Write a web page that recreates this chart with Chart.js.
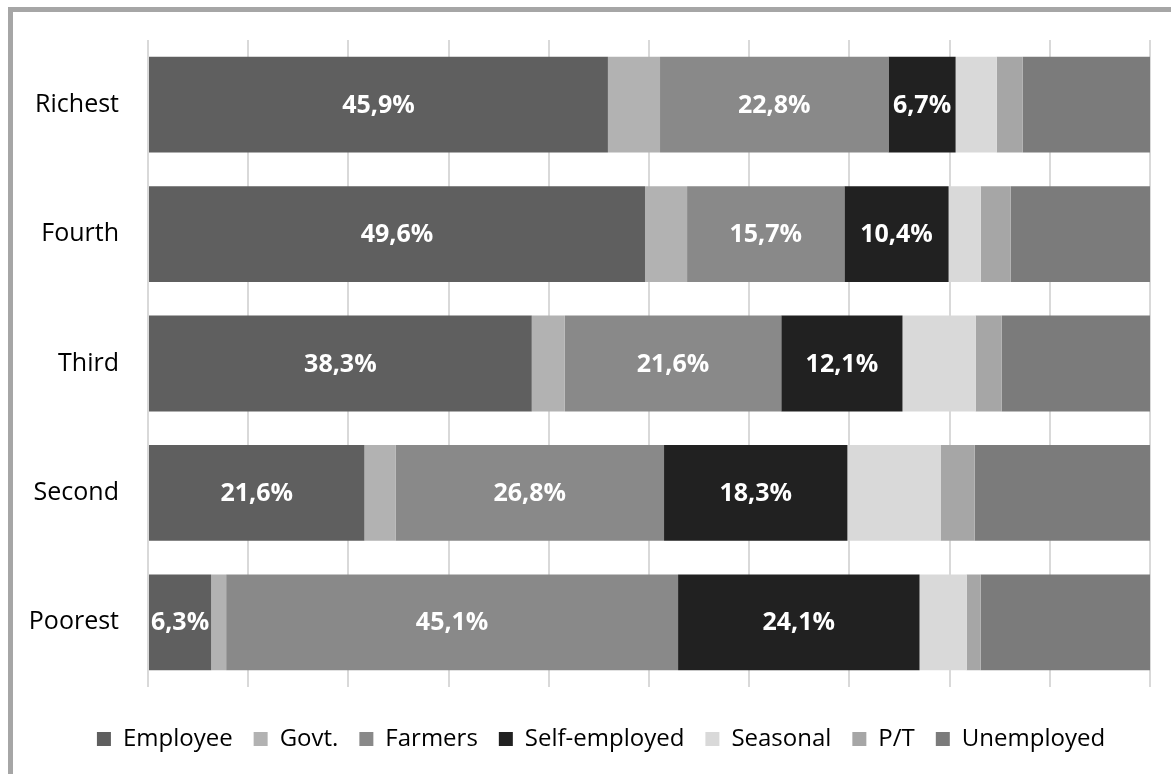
<!DOCTYPE html>
<html>
<head>
<meta charset="utf-8">
<script src="https://cdn.jsdelivr.net/npm/chart.js@4"></script>
<style>
  html, body { margin: 0; padding: 0; background: #fff; overflow: hidden; }
  #wrap { position: relative; width: 1171px; height: 774px; }
  #frame { position: absolute; left: 8px; top: 7px; width: 1200px; height: 800px;
           border: 5px solid #a6a6a6; box-sizing: border-box; }
  #chart { position: absolute; left: 0; top: 0; }
</style>
</head>
<body>
<div id="wrap">
  <div id="frame"></div>
  <canvas id="chart" width="1171" height="774"></canvas>
</div>
<script>
// ======================= DATA ==========================
const quintiles = ["Richest", "Fourth", "Third", "Second", "Poorest"];
const seriesNames = ["Employee", "Govt.", "Farmers", "Self-employed", "Seasonal", "P/T", "Unemployed"];
const employee     = [45.9, 49.6, 38.3, 21.6, 6.3];
const govt         = [5.2, 4.2, 3.3, 3.1, 1.5];
const farmers      = [22.8, 15.7, 21.6, 26.8, 45.1];
const selfEmployed = [6.7, 10.4, 12.1, 18.3, 24.1];
const seasonal     = [4.1, 3.2, 7.3, 9.3, 4.7];
const partTime     = [2.6, 3.0, 2.6, 3.4, 1.4];
const unemployed   = [12.7, 13.9, 14.8, 17.5, 16.9];
const colors = ["#5f5f5f", "#b2b2b2", "#898989", "#212121", "#d9d9d9", "#a6a6a6", "#7b7b7b"];
const labelled = [0, 2, 3]; // series that carry value labels

const FONT = "'Open Sans', 'Noto Sans', sans-serif";

// ======================= VALUE LABELS ==================
const barLabels = {
    id: "barLabels",
    afterDatasetsDraw(chart) {
        const ctx = chart.ctx;
        ctx.save();
        ctx.font = "bold 25px " + FONT;
        ctx.fillStyle = "#ffffff";
        ctx.textAlign = "center";
        ctx.textBaseline = "middle";
        labelled.forEach(di => {
            const meta = chart.getDatasetMeta(di);
            meta.data.forEach((bar, i) => {
                const v = chart.data.datasets[di].data[i];
                const txt = v.toFixed(1).replace(".", ",") + "%";
                ctx.fillText(txt, (bar.x + bar.base) / 2, bar.y + 1);
            });
        });
        ctx.restore();
    }
};

// legend sits a bit right of the canvas centre in the original
const legendShift = {
    id: "legendShift",
    afterLayout(chart) {
        chart.legend.left += 26;
        chart.legend.right += 26;
    }
};

// ======================= CHART =========================
const allSeries = [employee, govt, farmers, selfEmployed, seasonal, partTime, unemployed];

new Chart(document.getElementById("chart"), {
    type: "bar",
    data: {
        labels: quintiles,
        datasets: allSeries.map((d, i) => ({
            label: seriesNames[i],
            data: d,
            backgroundColor: colors[i],
            borderWidth: 0,
            barPercentage: 0.74,
            categoryPercentage: 1
        }))
    },
    options: {
        indexAxis: "y",
        responsive: false,
        animation: false,
        devicePixelRatio: 1,
        layout: { padding: { top: 40, right: 21, bottom: 13, left: 0 } },
        scales: {
            x: {
                stacked: true,
                min: 0,
                max: 100,
                ticks: { display: false, stepSize: 10 },
                grid: { color: "#d9d9d9", lineWidth: 2, drawTicks: false },
                border: { display: false },
                afterFit(s) { s.height = 19; }
            },
            y: {
                stacked: true,
                grid: { display: false },
                border: { display: false },
                ticks: { color: "#000", padding: 21, font: { family: FONT, size: 25 } },
                afterFit(s) { s.width = 148; }
            }
        },
        plugins: {
            legend: {
                position: "bottom",
                labels: {
                    boxWidth: 14,
                    boxHeight: 14,
                    padding: 21,
                    color: "#000",
                    font: { family: FONT, size: 24 }
                }
            },
            tooltip: { enabled: false }
        }
    },
    plugins: [barLabels, legendShift]
});
</script>
</body>
</html>
